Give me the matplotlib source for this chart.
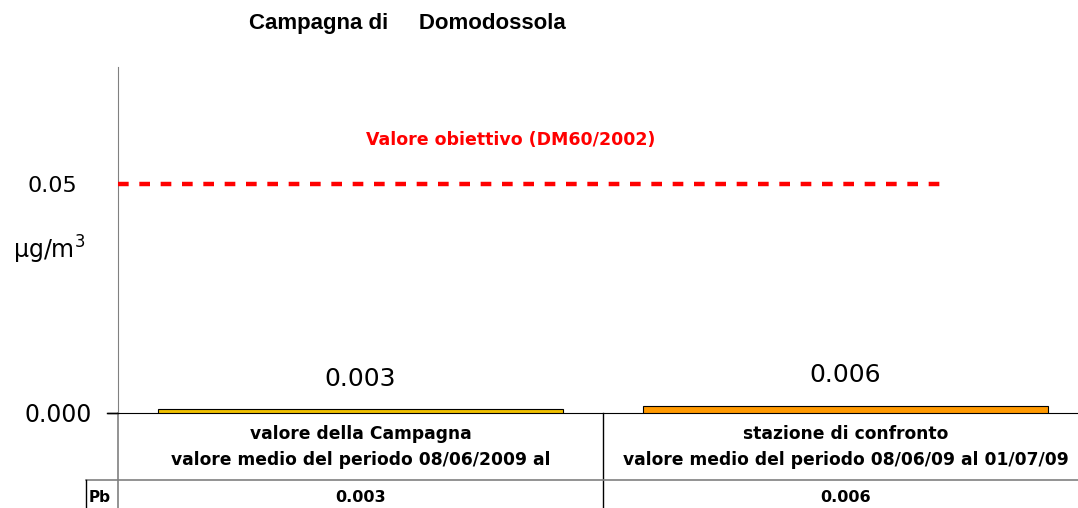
import numpy as np
import matplotlib
matplotlib.use('Agg')
import matplotlib.pyplot as plt
import matplotlib.transforms as mtransforms

# data
categories = ['valore della Campagna\nvalore medio del periodo 08/06/2009 al',
              'stazione di confronto\nvalore medio del periodo 08/06/09 al 01/07/09']
pb_values = [0.003, 0.006]
pb_labels = ['0.003', '0.006']
row_name = 'Pb'
target_value = 0.05
target_label = 'Valore obiettivo (DM60/2002)'
bar_colors = ['#f0c000', '#ff9900']

fig = plt.figure(figsize=(10.78, 5.08), dpi=100)
ax = fig.add_axes([118 / 1078, 95 / 508, 970 / 1078, 346 / 508])

x = np.arange(len(pb_values))
ax.bar(x, pb_values, width=0.835, color=bar_colors, edgecolor='black', linewidth=0.8, zorder=3)
ax.set_xlim(-0.5, 1.5)
ax.set_ylim(0, 0.28)

for xi, v, lab in zip(x, pb_values, pb_labels):
    ax.annotate(lab, (xi, v), xytext=(0, 22), textcoords='offset points',
                ha='center', va='center', fontsize=18, family='DejaVu Sans')

# axes look
for s in ['top', 'right']:
    ax.spines[s].set_visible(False)
ax.spines['left'].set_color('#808080')
ax.spines['bottom'].set_color('black')
ax.set_xticks([])
ax.set_yticks([0])
ax.set_yticklabels(['0.000'])
ax.tick_params(axis='y', length=8, width=1, pad=11, labelsize=17)

# second scale for the target value line
ax2 = ax.twinx()
ax2.set_ylim(0, target_value / 0.662)
ax2.axhline(target_value, xmin=0, xmax=0.847, color='#ff0000', lw=3.2,
            dashes=(2.4, 2.4), zorder=2)
for s in ax2.spines.values():
    s.set_visible(False)
ax2.yaxis.tick_left()
ax2.set_yticks([target_value])
ax2.set_yticklabels(['0.05'])
ax2.tick_params(axis='y', length=0, pad=29, labelsize=16)

# data table below
tr = mtransforms.blended_transform_factory(ax.transData, ax.transAxes)
ax.plot([0.5, 0.5], [0, -0.3], transform=tr, color='black', lw=1, clip_on=False)
ax.plot([-0.5, -0.5], [0, -0.3], transform=tr, color='#808080', lw=1.2, clip_on=False)
row_x0 = -0.5 - 32 / 485
ax.plot([row_x0, 1.6], [-0.194, -0.194], transform=tr, color='#808080', lw=1.2, clip_on=False)
ax.plot([row_x0, row_x0], [-0.194, -0.3], transform=tr, color='black', lw=1, clip_on=False)
ax.plot([-0.5 - 11 / 485, -0.5], [0, 0], transform=tr, color='black', lw=1, clip_on=False)

for xi, cat, lab in zip(x, categories, pb_labels):
    ax.text(xi, -0.098, cat, transform=tr, ha='center', va='center', fontsize=12.3,
            fontweight='bold', linespacing=1.55, family='DejaVu Sans')
    ax.text(xi, -0.243, lab, transform=tr, ha='center', va='center', fontsize=11.5,
            fontweight='bold', family='DejaVu Sans')
ax.text(row_x0 + 3 / 485, -0.243, row_name, transform=tr, ha='left', va='center',
        fontsize=11, fontweight='bold', family='DejaVu Sans')

# titles and labels
fig.text(407 / 1078, 1 - 24 / 508, 'Campagna di     Domodossola', ha='center', va='center',
         fontsize=16, fontweight='bold', family='Liberation Sans')
fig.text(511 / 1078, 1 - 140 / 508, target_label, ha='center', va='center',
         fontsize=12.5, fontweight='bold', color='#ff0000', family='DejaVu Sans')
fig.text(49 / 1078, 1 - 250 / 508, 'μg/m$^3$', ha='center', va='center',
         fontsize=17, family='DejaVu Sans')

fig.savefig('out.png', dpi=100)
